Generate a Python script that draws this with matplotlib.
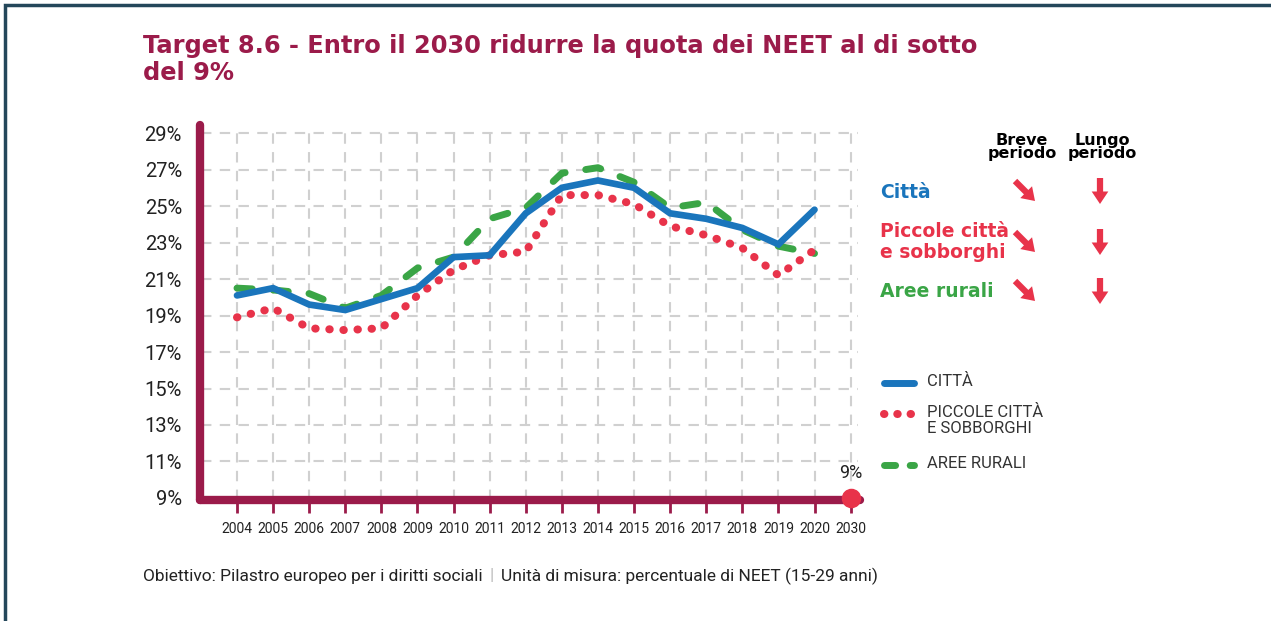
import matplotlib
matplotlib.use("Agg")
import matplotlib.pyplot as plt
from matplotlib.patches import FancyArrowPatch, Rectangle

# ── dati ──────────────────────────────────────────────
anni = ["2004", "2005", "2006", "2007", "2008", "2009", "2010", "2011", "2012",
        "2013", "2014", "2015", "2016", "2017", "2018", "2019", "2020", "2030"]
citta = [20.1, 20.5, 19.6, 19.3, 19.9, 20.5, 22.2, 22.3, 24.6,
         26.0, 26.4, 26.0, 24.6, 24.3, 23.8, 22.9, 24.8]
piccole = [18.9, 19.4, 18.3, 18.2, 18.3, 20.1, 21.5, 22.3, 22.5,
           25.6, 25.6, 25.1, 23.9, 23.4, 22.7, 21.2, 22.6]
rurali = [20.5, 20.4, 20.2, 19.4, 20.1, 21.6, 22.2, 24.3, 24.9,
          26.8, 27.1, 26.3, 24.9, 25.2, 23.7, 22.8, 22.4]
target = 9
y_ticks = [9, 11, 13, 15, 17, 19, 21, 23, 25, 27, 29]

MAROON = "#9b1b4a"
BLUE = "#1a75bc"
RED = "#e8334a"
GREEN = "#3aa546"
GRID = "#d0d0d0"
NARROW = ["Roboto", "DejaVu Sans"]

W, H = 1271, 621
fig = plt.figure(figsize=(W / 100, H / 100), dpi=100)


def px(x, y):
    return x / W, 1 - y / H


# cornice (solo lati sinistro e superiore visibili)
fig.add_artist(Rectangle((5 / W, -0.1), 1.2, 1.1 - 5 / H,
                         transform=fig.transFigure, fill=False,
                         edgecolor="#24475a", lw=2.5))

# titolo
fig.text(*px(143, 34), "Target 8.6 - Entro il 2030 ridurre la quota dei NEET al di sotto\ndel 9%",
         color=MAROON, fontsize=17.4, fontweight="bold", va="top", ha="left",
         linespacing=1.15)

# ── grafico ───────────────────────────────────────────
ax = fig.add_axes([200 / W, 121 / H, 660 / W, 375 / H])
ax.set_xlim(-1.025, 17.26)
ax.set_ylim(8.89, 29.44)

x = list(range(len(anni)))
for i in x:
    ax.plot([i, i], [8.89, 29.0], color=GRID, lw=1.5, ls=(0, (5, 4)), zorder=1)
for v in y_ticks[1:]:
    ax.plot([-1.0, 17.2], [v, v], color=GRID, lw=1.5, ls=(0, (5, 4)), zorder=1)

ax.plot(x[:17], rurali, color=GREEN, lw=5, ls=(0, (2.2, 3.0)),
        dash_capstyle="round", zorder=3)
ax.plot(x[:17], piccole, color=RED, lw=5.8, ls=(0, (0.05, 1.7)),
        dash_capstyle="round", zorder=3)
ax.plot(x[:17], citta, color=BLUE, lw=4.8, solid_capstyle="round",
        solid_joinstyle="miter", zorder=4)

# assi spessi
for s in ax.spines.values():
    s.set_visible(False)
ax.plot([0, 0], [0, 1.0], transform=ax.transAxes, color=MAROON, lw=6,
        solid_capstyle="round", clip_on=False, zorder=5)
ax.plot([0, 1.0], [0, 0], transform=ax.transAxes, color=MAROON, lw=6,
        solid_capstyle="round", clip_on=False, zorder=5)

# obiettivo 2030
ax.scatter([17], [target], s=170, color=RED, zorder=6, clip_on=False)
ax.text(17, target + 0.85, "9%", ha="center", va="bottom", fontsize=13,
        family=NARROW, color="#222222")

ax.set_xticks(x)
ax.set_xticklabels(anni, family=NARROW, fontsize=10, color="#222222")
ax.tick_params(axis="x", length=9, width=2, color=MAROON, pad=7)
ax.set_yticks(y_ticks)
ax.set_yticklabels([f"{v}%" for v in y_ticks], family=NARROW, fontsize=14.5,
                   color="#222222")
ax.tick_params(axis="y", length=0, pad=13)

# ── pannello destro ───────────────────────────────────
fig.text(*px(1022, 133), "Breve\nperiodo", ha="center", va="top", fontsize=11.5,
         fontweight="bold", linespacing=0.85)
fig.text(*px(1102, 133), "Lungo\nperiodo", ha="center", va="top", fontsize=11.5,
         fontweight="bold", linespacing=0.85)

freccia = "simple,head_length=9,head_width=12,tail_width=4.5"
righe = [("Città", BLUE, 192, 191), ("Piccole città\ne sobborghi", RED, 242, 242),
         ("Aree rurali", GREEN, 291, 291)]
for testo, col, yt, ya in righe:
    fig.text(*px(880, yt), testo, color=col, fontsize=13.5, fontweight="bold",
             va="center", ha="left", linespacing=1.15)
    fig.add_artist(FancyArrowPatch(px(1015, ya - 10), px(1035, ya + 10),
                                   transform=fig.transFigure, color=RED, lw=0,
                                   arrowstyle=freccia, shrinkA=0, shrinkB=0))
    fig.add_artist(FancyArrowPatch(px(1100, ya - 13), px(1100, ya + 13),
                                   transform=fig.transFigure, color=RED, lw=0,
                                   arrowstyle=freccia, shrinkA=0, shrinkB=0))

# legenda
leg_y = [383, 414, 465]
leg_txt = ["CITTÀ", "PICCOLE CITTÀ\nE SOBBORGHI", "AREE RURALI"]
leg_sty = [dict(color=BLUE, lw=5, solid_capstyle="round"),
           dict(color=RED, lw=5.8, ls=(0, (0.05, 1.6)), dash_capstyle="round"),
           dict(color=GREEN, lw=5, ls=(0, (1.6, 2.1)), dash_capstyle="round")]
for yl, t, sty in zip(leg_y, leg_txt, leg_sty):
    x0, y0 = px(884, yl)
    x1, _ = px(914, yl)
    fig.add_artist(plt.Line2D([x0, x1], [y0, y0], transform=fig.transFigure, **sty))
    fig.text(*px(927, yl - 9), t, ha="left", va="top", fontsize=12,
             family=NARROW, color="#333333", linespacing=1.05)

# nota
fig.canvas.draw()
r = fig.canvas.get_renderer()
t1 = fig.text(*px(143, 576), "Obiettivo: Pilastro europeo per i diritti sociali",
              ha="left", va="center", fontsize=12.5, family=NARROW, color="#222222")
x_end = t1.get_window_extent(r).x1
t2 = fig.text((x_end + 7) / W, 1 - 576 / H, "|", ha="left", va="center",
              fontsize=12.5, family=NARROW, color="#bbbbbb")
x_end = t2.get_window_extent(r).x1
fig.text((x_end + 7) / W, 1 - 576 / H, "Unità di misura: percentuale di NEET (15-29 anni)",
         ha="left", va="center", fontsize=12.5, family=NARROW, color="#222222")

plt.savefig("out.png", dpi=100)
